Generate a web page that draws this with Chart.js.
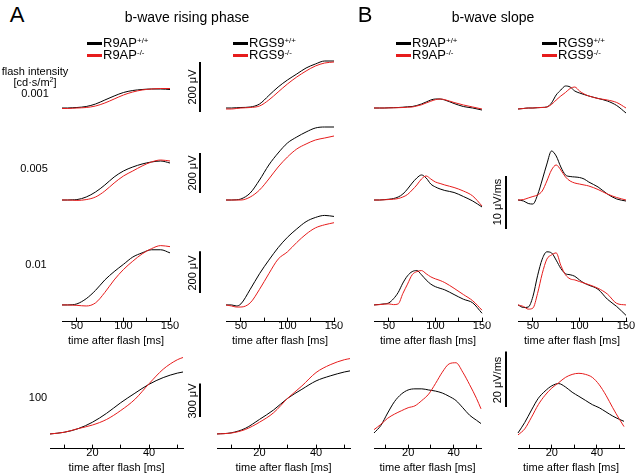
<!DOCTYPE html>
<html>
<head>
<meta charset="utf-8">
<script src="https://cdn.jsdelivr.net/npm/chart.js@4.4.1/dist/chart.umd.min.js"></script>
<style>
  body { margin: 0; background: #fff; }
  #fig { position: relative; width: 637px; height: 474px; overflow: hidden;
         font-family: "Liberation Sans", Arial, sans-serif; color: #000; }
  #fig canvas { position: absolute; }
  .t { position: absolute; white-space: nowrap; transform: translate(-50%, -50%); font-size: 11px; }
  .leg { position: absolute; font-size: 13px; line-height: 12px; white-space: nowrap; }
  .leg i { display: inline-block; width: 15px; height: 2.5px; vertical-align: middle; margin-right: 1px; }
  .leg sup { font-size: 8px; vertical-align: 4px; line-height: 0; }
  .rot { position: absolute; white-space: nowrap; font-size: 11px; transform: translate(-50%, -50%) rotate(-90deg); }
</style>
</head>
<body>
<div id="fig"></div>
<script>
// flash intensities, one per row of panels [cd·s/m²]
const intensities = ['0.001', '0.005', '0.01', '100'];

// time bases [ms]
const tRise = [34, 40, 45, 50, 60, 70, 80, 90, 100, 110, 120, 130, 140, 150];
const tSlope = [34, 40, 45, 50, 55, 60, 65, 70, 75, 80, 85, 90, 95, 100, 105, 110, 120, 130, 140, 150];
const tFast = [5, 10, 15, 20, 25, 30, 35, 40, 45, 50, 52];
const tPeak = [5, 8, 11, 14, 17, 20, 23, 26, 29, 32, 35, 38, 41, 44, 47, 50, 52];

// x axis ticks
const ticksSlow = [50, 75, 100, 125, 150];
const labelsSlow = [50, 100, 150];
const ticksFast = [10, 20, 30, 40, 50];
const labelsFast = [20, 40];

// b-wave rising phase [µV], rows = intensities (row 4 on tFast)
const riseR9apWT = [
  [0, 0, 1, 2, 6, 16, 32, 48, 62, 70, 74, 76, 76, 74],
  [0, 0, 1, 2, 15, 40, 75, 115, 145, 165, 180, 190, 195, 185],
  [0, 0, 1, 5, 30, 70, 120, 160, 195, 230, 250, 265, 265, 250],
  [0, 15, 48, 105, 185, 280, 365, 445, 505, 545, 555]
];
const riseR9apKO = [
  [-2, -2, -1, 0, 2, 8, 20, 36, 52, 64, 72, 76, 78, 78],
  [0, 0, -1, -2, 2, 15, 45, 85, 120, 145, 170, 190, 200, 195],
  [0, 0, -1, -2, -5, 10, 60, 120, 170, 210, 245, 270, 285, 280],
  [0, 15, 48, 80, 130, 210, 310, 450, 580, 665, 685]
];
const riseRgs9WT = [
  [0, 0, 1, 2, 4, 16, 50, 84, 112, 136, 160, 176, 188, 188],
  [0, 0, 1, 5, 35, 100, 175, 235, 285, 315, 340, 360, 365, 365],
  [0, 0, -5, 5, 75, 150, 215, 275, 325, 365, 400, 420, 430, 425],
  [0, 10, 50, 130, 215, 320, 400, 475, 520, 555, 565]
];
const riseRgs9KO = [
  [-4, -4, -2, 0, 2, 8, 32, 64, 96, 124, 148, 168, 180, 184],
  [0, 0, 0, 0, 15, 50, 105, 165, 215, 255, 280, 300, 310, 320],
  [0, -5, -10, -10, 10, 75, 150, 220, 255, 300, 340, 370, 385, 395],
  [0, 8, 40, 105, 190, 320, 430, 550, 620, 665, 675]
];

// b-wave slope [µV/ms], rows = intensities (row 4 on tPeak)
const slopeR9apWT = [
  [0, 0, 0, 0.04, 0.06, 0.09, 0.15, 0.23, 0.28, 0.47, 0.76, 1.13, 1.51, 1.7, 1.7, 1.51, 0.85, 0.28, 0, -0.38],
  [0, 0, 0.06, 0.15, 0.28, 0.57, 1.13, 2.08, 3.21, 4.16, 4.73, 4.16, 3.02, 2.46, 2.08, 1.8, 1.42, 0.66, -0.19, -1.32],
  [0, 0.09, 0.19, 0.38, 1.13, 2.27, 3.97, 5.29, 6.05, 6.24, 5.48, 4.54, 3.78, 3.31, 3.02, 2.74, 1.89, 1.04, 0.38, -1.51],
  [6.0, 8.7, 13.2, 17.3, 20.0, 21.5, 21.9, 21.9, 21.5, 21.1, 20.4, 19.2, 17.7, 15.1, 12.4, 10.6, 9.4]
];
const slopeR9apKO = [
  [0, 0, 0, 0.02, 0.04, 0.06, 0.09, 0.15, 0.19, 0.38, 0.6, 0.95, 1.28, 1.57, 1.7, 1.57, 1.04, 0.57, 0.19, -0.19],
  [0, 0, 0.04, 0.09, 0.15, 0.28, 0.57, 1.04, 1.89, 2.84, 3.97, 4.54, 3.97, 3.4, 3.12, 2.84, 2.36, 1.7, 0.76, -1.13],
  [0, 0.06, 0.15, 0.19, 0.06, 0.19, 2.08, 3.78, 5.48, 6.05, 6.24, 5.67, 5.1, 4.73, 4.44, 4.06, 3.02, 1.89, 0.76, -0.95],
  [7.2, 9.1, 11.3, 12.8, 14.0, 15.1, 15.8, 17.7, 20.0, 23.8, 27.9, 30.9, 31.3, 27.9, 23.4, 18.5, 14.7]
];
const slopeRgs9WT = [
  [-0.19, -0.09, 0, 0, 0.06, 0.11, 0.19, 0.95, 2.46, 3.4, 4.16, 3.97, 3.21, 2.84, 2.55, 2.27, 1.8, 1.32, 0.47, -0.95],
  [0, -0.19, -0.66, -0.76, 0.95, 3.78, 6.8, 9.26, 8.32, 6.24, 4.73, 4.44, 4.35, 4.25, 3.97, 3.4, 2.46, 1.13, 0.19, -0.19],
  [0, -0.47, -0.38, 1.51, 5.29, 8.32, 9.64, 9.45, 8.13, 6.62, 5.67, 5.48, 5.2, 4.54, 3.97, 3.59, 2.84, 1.04, -0.28, -1.89],
  [6.0, 9.8, 14.3, 18.5, 21.1, 23.0, 23.8, 22.6, 20.7, 19.2, 17.7, 16.2, 15.1, 13.6, 12.1, 10.9, 10.2]
];
const slopeRgs9KO = [
  [-0.19, -0.09, 0, 0, 0.06, 0.09, 0.19, 0.66, 1.51, 2.27, 2.93, 3.69, 3.97, 3.21, 2.65, 2.27, 1.8, 1.51, 1.04, 0],
  [0, 0.09, 0.38, 0.66, 0.95, 1.7, 3.59, 5.67, 6.62, 5.67, 4.35, 3.59, 3.21, 3.02, 2.84, 2.65, 1.98, 1.13, 0.47, 0],
  [0, -0.28, -0.76, -0.57, 2.08, 5.67, 8.32, 9.07, 9.45, 7.18, 5.48, 4.73, 4.54, 4.25, 3.97, 3.69, 3.02, 1.98, 0.28, 0],
  [5.3, 7.5, 11.7, 16.2, 19.6, 22.2, 24.1, 26.0, 27.1, 27.5, 27.1, 26.0, 23.4, 19.6, 15.1, 10.9, 8.3]
];

// scale bars
const scaleBarsA = [200, 200, 200, 300];   // µV
const scaleBarsB = [null, 10, null, 20];   // µV/ms

const RED = 'rgb(230,28,28)';
const FONT = '"Liberation Sans", Arial, sans-serif';
Chart.defaults.font.family = FONT;
Chart.defaults.color = '#000';

const fig = document.getElementById('fig');

// ---- layout (page pixels) ----
const rows = [
  { y0: 50,  y1: 115, base: 108, uppA: 4,     uppB: 0.189 },
  { y0: 120, y1: 210, y1B: 232, base: 200, uppA: 5, uppB: 0.189 },
  { y0: 205, y1: 317, base: 301, uppA: 5,     uppB: 0.189 },
  { y0: 345, y1: 444, base: 430, baseB: 445, uppA: 9.375, uppB: 0.377 }
];
const colsSlow = [[62, 170], [226, 334], [374, 482], [518, 626]];
const colsFast = [[50, 183], [217, 350], [374, 481], [518, 624]];
const barPosA = [112, 193, 293, 417];   // bar bottoms
const barPosB = [null, 229, null, 407];
const AXIS_H = 31;

const scaleBar = {
  id: 'scaleBar',
  afterDraw(chart, args, o) {
    if (!o || !o.value) return;
    const y = chart.scales.y, ctx = chart.ctx;
    const from = y.getValueForPixel(o.bottom);
    const yb = y.getPixelForValue(from), yt = y.getPixelForValue(from + o.value);
    ctx.save();
    ctx.strokeStyle = '#000';
    ctx.lineWidth = 2;
    ctx.beginPath();
    ctx.moveTo(o.x, yb);
    ctx.lineTo(o.x, yt);
    ctx.stroke();
    ctx.restore();
  }
};

function addPanel(p) {
  const padL = 48, padR = 16, padT = 12, padB = p.ticks ? 0 : 6;
  const axisH = p.ticks ? AXIS_H : 0;
  const cv = document.createElement('canvas');
  cv.width = (p.x1 - p.x0) + padL + padR;
  cv.height = (p.y1 - p.y0) + padT + padB + axisH;
  const left = p.x0 - padL, top = p.y0 - padT;
  cv.style.left = left + 'px';
  cv.style.top = top + 'px';
  fig.appendChild(cv);

  const line = (vals, color) => ({
    data: p.t.map((x, i) => ({ x: x, y: vals[i] })),
    borderColor: color, borderWidth: 1, pointRadius: 0,
    cubicInterpolationMode: 'monotone', clip: false, fill: false
  });

  const xScale = p.ticks ? {
    type: 'linear', min: p.xmin, max: p.xmax,
    afterBuildTicks: s => { s.ticks = p.ticks.map(v => ({ value: v })); },
    ticks: {
      autoSkip: false, maxRotation: 0, padding: 2, font: { size: 11 }, color: '#000',
      callback: v => p.labels.includes(v) ? String(v) : ''
    },
    grid: { drawOnChartArea: false, drawTicks: true, tickLength: -4, color: '#000', lineWidth: 1 },
    border: { display: true, color: '#000', width: 1 },
    title: { display: true, text: 'time after flash [ms]', font: { size: 11 }, color: '#000',
             padding: { top: 0, bottom: 0 } }
  } : { type: 'linear', min: p.xmin, max: p.xmax, display: false };

  new Chart(cv, {
    type: 'line',
    data: { datasets: [line(p.red, RED), line(p.black, '#000')] },
    options: {
      responsive: false, animation: false, events: [],
      layout: { padding: { left: padL, right: padR, top: padT, bottom: padB } },
      plugins: {
        legend: { display: false }, tooltip: { enabled: false },
        scaleBar: p.bar ? { value: p.bar, x: p.barX - left, bottom: p.barBottom - top } : {}
      },
      scales: {
        x: xScale,
        y: { type: 'linear', display: false,
             min: (p.base - p.y1) * p.upp, max: (p.base - p.y0) * p.upp }
      }
    },
    plugins: [scaleBar]
  });
}

intensities.forEach((lvl, r) => {
  const g = rows[r];
  const fast = r === 3;
  const cols = fast ? colsFast : colsSlow;
  const axis = r >= 2;
  const tick = axis ? (fast ? ticksFast : ticksSlow) : null;
  const lab = fast ? labelsFast : labelsSlow;
  const xr = fast ? [5, 52] : [34, 150];
  const common = { y0: g.y0, ticks: tick, labels: lab, xmin: xr[0], xmax: xr[1] };
  // A: rising phase
  addPanel(Object.assign({}, common, { x0: cols[0][0], x1: cols[0][1], y1: g.y1, base: g.base, upp: g.uppA,
    t: fast ? tFast : tRise, black: riseR9apWT[r], red: riseR9apKO[r] }));
  addPanel(Object.assign({}, common, { x0: cols[1][0], x1: cols[1][1], y1: g.y1, base: g.base, upp: g.uppA,
    t: fast ? tFast : tRise, black: riseRgs9WT[r], red: riseRgs9KO[r],
    bar: scaleBarsA[r], barX: 200, barBottom: barPosA[r] }));
  // B: slope
  const yb = g.y1B || g.y1;
  const bb = g.baseB || g.base;
  addPanel(Object.assign({}, common, { x0: cols[2][0], x1: cols[2][1], y1: yb, base: bb, upp: g.uppB,
    t: fast ? tPeak : tSlope, black: slopeR9apWT[r], red: slopeR9apKO[r] }));
  addPanel(Object.assign({}, common, { x0: cols[3][0], x1: cols[3][1], y1: yb, base: bb, upp: g.uppB,
    t: fast ? tPeak : tSlope, black: slopeRgs9WT[r], red: slopeRgs9KO[r],
    bar: scaleBarsB[r], barX: 506, barBottom: barPosB[r] }));
});

// ---- text ----
function text(str, x, y, size, cls) {
  const d = document.createElement('div');
  d.className = cls || 't';
  d.innerHTML = str;
  d.style.left = x + 'px';
  d.style.top = y + 'px';
  if (size) d.style.fontSize = size + 'px';
  fig.appendChild(d);
}
text('A', 17, 15, 22);
text('B', 365, 15, 22);
text('b-wave rising phase', 187, 17, 14);
text('b-wave slope', 493, 17, 14);
text('flash intensity', 35, 71);
text('[cd·s/m<sup style="font-size:7px">2</sup>]', 35, 82);
const lvlPos = [[35, 93], [34, 168], [36, 264], [38, 397]];
intensities.forEach((lvl, i) => text(lvl, lvlPos[i][0], lvlPos[i][1]));

const barLabelA = [87, 173, 273, 401];
scaleBarsA.forEach((v, i) => text(v + ' μV', 192, barLabelA[i], 11, 'rot'));
const barLabelB = [null, 202, null, 380];
scaleBarsB.forEach((v, i) => { if (v) text(v + ' μV/ms', 497, barLabelB[i], 11, 'rot'); });

function legend(name, x) {
  const d = document.createElement('div');
  d.className = 'leg';
  d.style.left = x + 'px';
  d.style.top = '37px';
  d.innerHTML = '<div><i style="background:#000"></i>' + name + '<sup>+/+</sup></div>' +
                '<div><i style="background:' + RED + '"></i>' + name + '<sup>-/-</sup></div>';
  fig.appendChild(d);
}
legend('R9AP', 87);
legend('RGS9', 233);
legend('R9AP', 396);
legend('RGS9', 542);
</script>
</body>
</html>
